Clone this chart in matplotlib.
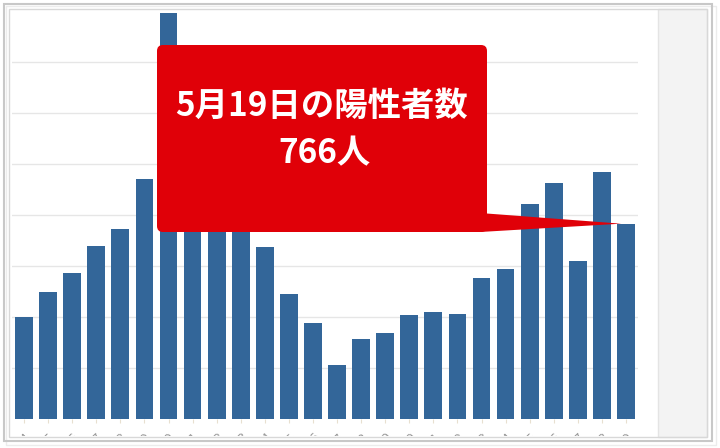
import matplotlib
matplotlib.use("Agg")
import matplotlib.pyplot as plt
import matplotlib.transforms as mtransforms
from matplotlib.patches import FancyBboxPatch, Polygon, Rectangle
from matplotlib.transforms import Bbox

plt.rcParams['font.family'] = ['Noto Sans CJK JP', 'DejaVu Sans']

# daily positives, 4/24 - 5/19 (bars 8-10 are hidden behind the callout, estimated)
dates = ['4/24', '4/25', '4/26', '4/27', '4/28', '4/29', '4/30',
         '5/1', '5/2', '5/3', '5/4', '5/5', '5/6', '5/7', '5/8', '5/9',
         '5/10', '5/11', '5/12', '5/13', '5/14', '5/15', '5/16', '5/17',
         '5/18', '5/19']
positives = [400, 497, 571, 677, 747, 942, 1592, 1050, 960, 880, 675, 489,
             375, 211, 314, 337, 407, 418, 412, 553, 589, 842, 924, 620,
             967, 766]
callout_lines = ['5月19日の陽性者数', '766人']

W, H = 720, 448
fig = plt.figure(figsize=(W / 100, H / 100), dpi=100)
fig.patch.set_facecolor('white')
# pixel coords, y down from top
pix = mtransforms.Affine2D().scale(1 / W, -1 / H).translate(0, 1) + fig.transFigure

ax = fig.add_axes([12 / W, (H - 419) / H, (638 - 12) / W, (419 - 11) / H])
x = list(range(len(positives)))
ax.bar(x, positives, width=0.74, color='#336699', zorder=2)
ax.set_xlim(-0.5, len(positives) - 0.5)
ax.set_ylim(0, 1600)
ax.set_yticks(range(200, 1600, 200))
ax.yaxis.grid(True, color='#e6e6e6', lw=1, zorder=0)
ax.tick_params(axis='y', length=0, labelleft=False)
for s in ax.spines.values():
    s.set_visible(False)
ax.set_xticks(x)
ax.set_xticklabels(dates, rotation=45, ha='right', rotation_mode='anchor',
                   fontsize=9, color='#9a9a9a', family='DejaVu Sans')
ax.tick_params(axis='x', length=3, color='#e8e0d0', pad=5)
# labels run off the bottom of the panel, as in the source chart
clip = Bbox.from_extents(0, H - 436, W, H)
for lbl in ax.get_xticklabels():
    lbl.set_clip_on(True)
    lbl.set_clip_box(clip)

# frame and right gray panel
fig.add_artist(Rectangle((658, 9), 49, 428, transform=pix, facecolor='#f3f3f3',
                         edgecolor='#e4e4e4', lw=1, zorder=0))
fig.add_artist(Rectangle((4, 4), 708, 437, transform=pix, fill=False,
                         edgecolor='#c8c8c8', lw=1.5, zorder=3))
fig.add_artist(Rectangle((9, 9), 698, 428, transform=pix, fill=False,
                         edgecolor='#d8d8d8', lw=1, zorder=3))
fig.add_artist(Rectangle((6, 6), 710, 439, transform=pix, fill=False,
                         edgecolor='#ececec', lw=1, zorder=2))

# callout
red = '#e00008'
tx, ty = ax.transData.transform((len(positives) - 1.2, positives[-1]))
tip = (tx, H - ty)
fig.add_artist(Polygon([(480, 213), tip, (480, 232)], closed=True, transform=pix,
                       facecolor=red, edgecolor='none', zorder=4))
fig.add_artist(FancyBboxPatch((157, 45), 330, 187, boxstyle='round,pad=0,rounding_size=6',
                              transform=pix, facecolor=red, edgecolor='none', zorder=4))
fig.text(322, 106, callout_lines[0], transform=pix, ha='center', va='center',
         color='white', fontsize=24, fontweight='bold', zorder=5)
fig.text(324, 154, callout_lines[1], transform=pix, ha='center', va='center',
         color='white', fontsize=24, fontweight='bold', zorder=5)

fig.savefig('out.png', dpi=100)
